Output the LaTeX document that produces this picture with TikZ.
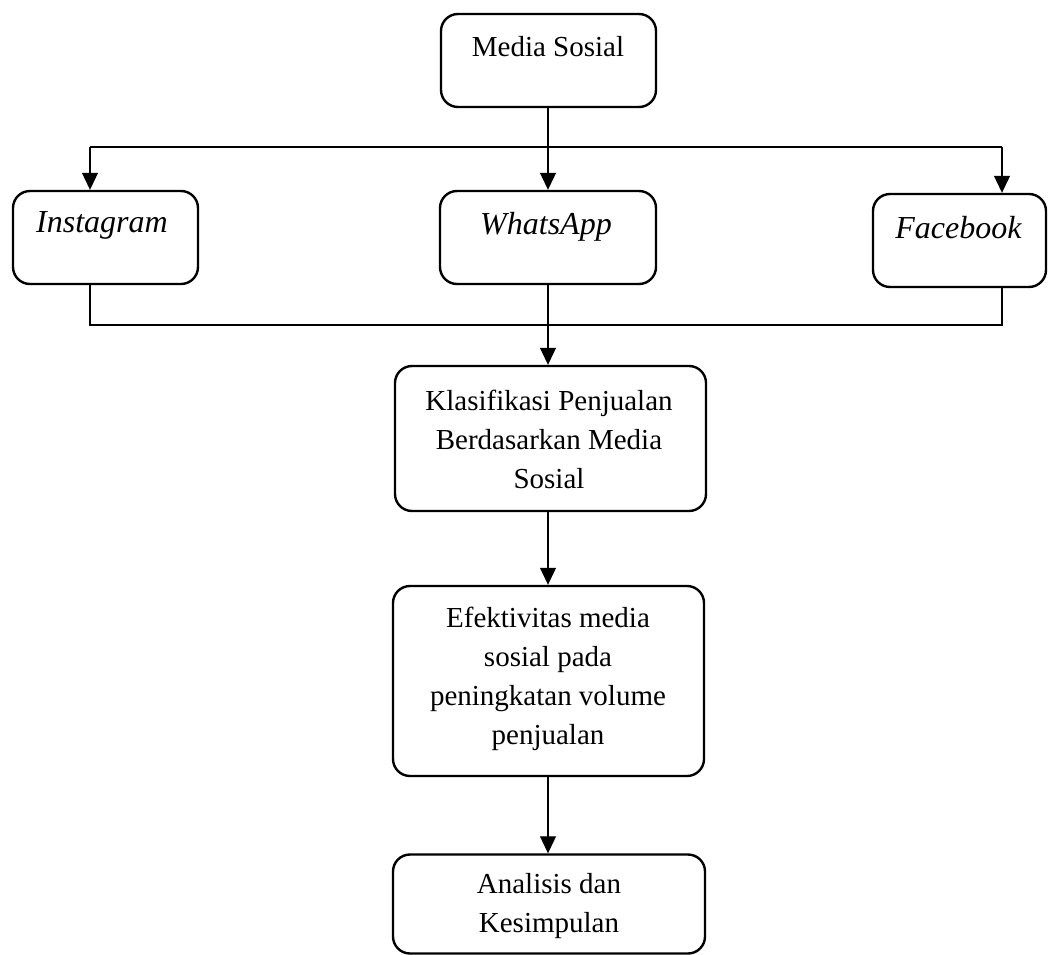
\documentclass[tikz,border=0pt]{standalone}
\usepackage{fontspec}
\setmainfont{Liberation Serif}
\usetikzlibrary{arrows.meta}
\begin{document}
\begin{tikzpicture}[x=1pt,y=-1pt,
  box/.style={draw, line width=2.4pt, rounded corners=17pt, inner sep=0pt},
  txt/.style={font=\fontsize{29}{39}\selectfont, align=center, inner sep=0pt},
  itxt/.style={font=\fontsize{32}{39}\selectfont\itshape, align=center, inner sep=0pt},
  conn/.style={line width=1.1pt},
  arr/.style={line width=1.1pt, -{Triangle[width=16pt,length=17pt]}}]
\useasboundingbox (0,0) rectangle (1049,955);
% boxes
\node[box, minimum width=215pt, minimum height=93pt] (ms) at (548.5,60.5) {};
\node[txt] (mst) at (548,47) {Media Sosial};
\node[box, minimum width=185pt, minimum height=93pt] (ig) at (105.5,237.5) {};
\node[itxt] (igt) at (102,225) {Instagram};
\node[box, minimum width=216pt, minimum height=93pt] (wa) at (548,237.5) {};
\node[itxt] (wat) at (546,227) {WhatsApp};
\node[box, minimum width=173pt, minimum height=93pt] (fb) at (959.5,240.5) {};
\node[itxt] (fbt) at (958.5,228) {Facebook};
\node[box, minimum width=311pt, minimum height=145pt] (kl) at (550.5,438.5) {};
\node[txt] (klt) at (549,439) {Klasifikasi Penjualan\\Berdasarkan Media\\Sosial};
\node[box, minimum width=311pt, minimum height=190pt] (ef) at (548.5,681) {};
\node[txt] (eft) at (548,679) {Efektivitas media\\sosial pada\\peningkatan volume\\penjualan};
\node[box, minimum width=312pt, minimum height=99pt] (an) at (549,904) {};
\node[txt] (ant) at (549,906.5) {Analisis dan\\Kesimpulan};
% junction coordinates
\coordinate (jt) at (548,147);
\coordinate (jl) at (90,147);
\coordinate (jr) at (1002,147);
\coordinate (bl) at (90,325);
\coordinate (br) at (1002,325);
% top fan-out
\draw[conn] (ms.south -| jt) -- (jt);
\draw[conn] (jl) -- (jr);
\draw[arr] (jl) -- (jl |- ig.north);
\draw[arr] (jt) -- (jt |- wa.north);
\draw[arr] (jr) -- (jr |- fb.north);
% bottom fan-in
\draw[conn] (bl |- ig.south) -- (bl) -- (br) -- (br |- fb.south);
\draw[arr] (wa.south -| jt) -- (jt |- kl.north);
\draw[arr] (jt |- kl.south) -- (jt |- ef.north);
\draw[arr] (jt |- ef.south) -- (jt |- an.north);
\end{tikzpicture}
\end{document}
